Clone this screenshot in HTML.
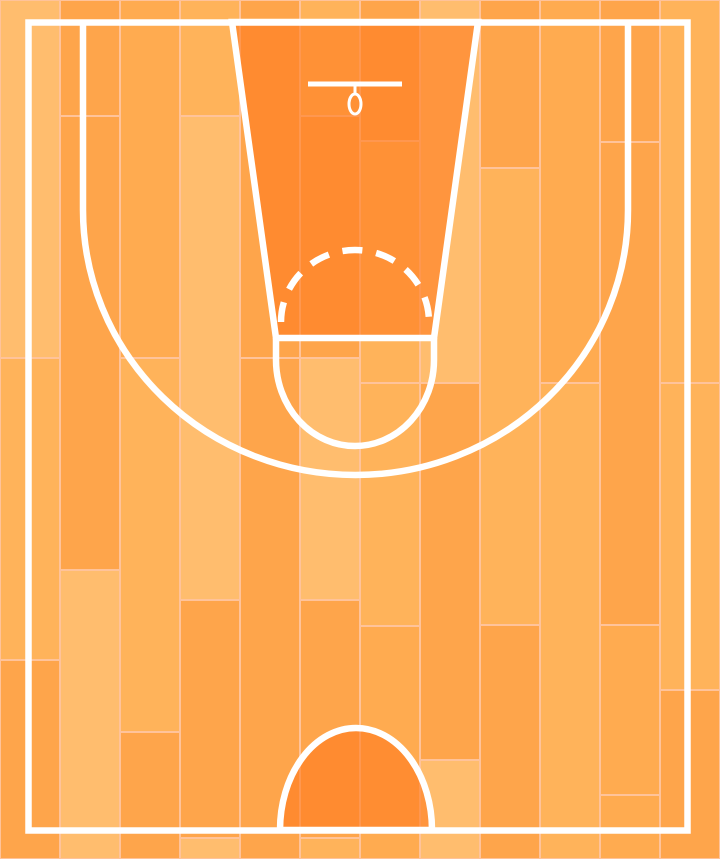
<!DOCTYPE html>
<html><head><meta charset="utf-8">
<style>html,body{margin:0;padding:0;background:#ffb35a;}svg{display:block;}</style>
</head><body>
<svg id="court" width="720" height="859" viewBox="0 0 720 859" xmlns="http://www.w3.org/2000/svg">
<g id="planks"></g>
<g id="lines" fill="none" stroke="#fff" stroke-width="6.5">
  <path d="M232,22 L478,22 L434,338 L276,338 Z" fill="#ff7a1e" fill-opacity="0.6"/>
  <path d="M280,830 A76,102 0 0 1 432,830 Z" fill="#ff7a1e" fill-opacity="0.6"/>
  <rect x="28.5" y="22.5" width="659" height="808"/>
  <path d="M83,22 L83,210 A272.5,265 0 0 0 628,210 L628,22"/>
  <path d="M276,338 L276,360 A79,86 0 0 0 434,360 L434,338"/>
  <path d="M281,322 A74,72 0 0 1 429,322" stroke-dasharray="20 14"/>
  <line x1="308" y1="84" x2="402" y2="84" stroke-width="5"/>
  <line x1="355" y1="84" x2="355" y2="94" stroke-width="3"/>
  <ellipse cx="355" cy="104" rx="6" ry="10" stroke-width="3"/>
</g>
</svg>
<script>
// plank columns (each 60px wide), break points and shade indices per column
const plankBreaks = [
  [0,358,660,859],
  [0,116,570,859],
  [0,358,732,859],
  [0,116,600,838,859],
  [0,358,859],
  [0,116,358,600,838,859],
  [0,141,383,626,859],
  [0,383,760,859],
  [0,168,625,859],
  [0,383,859],
  [0,142,625,795,859],
  [0,383,690,859]
];
const plankShades = [
  [0,1,2],
  [2,2,0],
  [3,1,2],
  [1,0,2,0],
  [2,2],
  [1,2,0,2,1],
  [2,1,1,3],
  [0,2,0],
  [2,1,2],
  [3,1],
  [2,2,3,3],
  [1,1,2]
];
const shadeColors = ["#ffbd6e","#ffb35a","#fea54b","#ffab50"];
const colWidth = 60;
const g = document.getElementById('planks');
const NS = 'http://www.w3.org/2000/svg';
plankBreaks.forEach((br, ci) => {
  for (let i = 0; i < br.length - 1; i++) {
    const r = document.createElementNS(NS, 'rect');
    r.setAttribute('x', ci * colWidth + 0.5);
    r.setAttribute('y', br[i] + 0.5);
    r.setAttribute('width', colWidth - 1);
    r.setAttribute('height', br[i + 1] - br[i] - 1);
    r.setAttribute('fill', shadeColors[plankShades[ci][i]]);
    r.setAttribute('stroke', '#ffc39a');
    r.setAttribute('stroke-width', '1');
    
    
    g.appendChild(r);
  }
});
</script>
</body></html>
